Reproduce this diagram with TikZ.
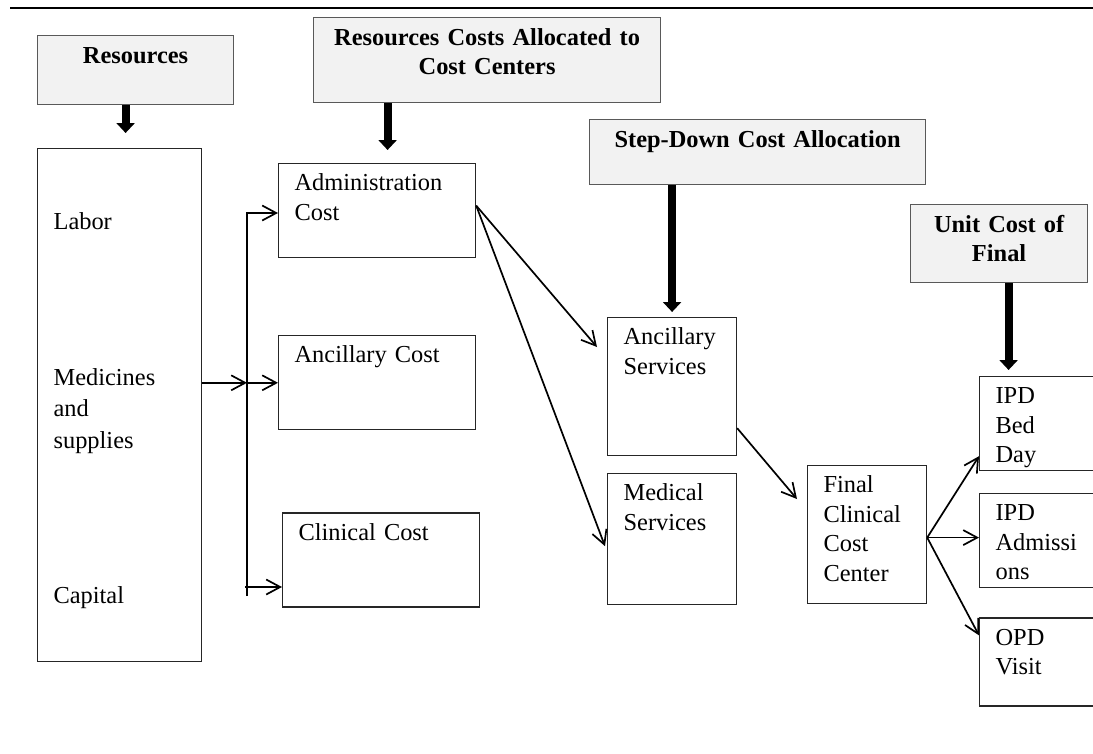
\documentclass[tikz,border=0pt]{standalone}
\usepackage{fontspec}
\setmainfont{Liberation Serif}
\usetikzlibrary{arrows.meta, positioning, calc}
\definecolor{hdrgrey}{HTML}{F2F2F2}
\definecolor{hdredge}{HTML}{595959}
\tikzset{
  >={Straight Barb[length=14pt,width=15pt]},
  hdr/.style={rectangle, draw=hdredge, fill=hdrgrey, line width=1.2pt, anchor=north west,
              align=center, inner sep=0pt, text height=28pt,
              font=\fontsize{24.4}{29}\selectfont\bfseries},
  box/.style={rectangle, draw=black!85, line width=1.2pt, anchor=north west,
              align=left, inner xsep=16pt, inner ysep=0pt, text height=27pt,
              font=\fontsize{24.4}{29.5}\selectfont},
  flow/.style={->, line width=1.7pt},
  bigflow/.style={-{Triangle[length=10pt,width=18pt]}, line width=8pt},
}
\begin{document}
\begin{tikzpicture}[x=1pt, y=-1pt]
  \useasboundingbox (0,0) rectangle (1093,753);
  \clip (0,0) rectangle (1093,753);
  \draw[line width=1.3pt] (10,8) -- (1093,8);

  \node[hdr, text width=196pt, text depth=41pt] (hres) at (37,35) {Resources};
  \node[hdr, text width=347pt, text depth=57pt] (hrcc) at (313,17) {Resources Costs Allocated to\\Cost Centers};
  \node[hdr, text width=336pt, text depth=37pt] (hsda) at (589,119) {Step-Down Cost Allocation};
  \node[hdr, text width=177pt, text depth=50pt] (hucf) at (910,204) {Unit Cost of\\Final};

  \node[box, text width=132pt, text height=81pt, text depth=432pt] (res) at (37,148)
    {Labor\\[126.5pt]Medicines\\[1.5pt]and\\[2.5pt]supplies\\[125.5pt]Capital};
  \node[box, text width=165pt, text depth=67pt] (adm) at (278,163) {Administration\\Cost};
  \node[box, text width=165pt, text depth=67pt, below=77pt of adm] (ancc) {Ancillary Cost};
  \node[box, text width=165pt, text depth=67pt, below=82pt of ancc, xshift=4pt] (clin) {Clinical Cost};
  \node[box, text width=97pt, text depth=111pt] (ancs) at (607,317) {Ancillary\\Services};
  \node[box, text width=97pt, text depth=104pt, below=17pt of ancs] (meds) {Medical\\Services};
  \node[box, text width=87pt, text depth=111pt] (fin) at (807,465) {Final\\Clinical\\Cost\\Center};
  \node[box, text width=130pt, text depth=67pt] (ipdb) at (979,376) {IPD\\Bed\\Day};
  \node[box, text width=130pt, text depth=67pt, below=22pt of ipdb] (ipda) {IPD\\Admissi\\ons};
  \node[box, text width=130pt, text depth=61pt, below=29pt of ipda] (opd) {OPD\\Visit};

  \draw[bigflow, shorten >=15pt] ([xshift=-10pt]hres.south) -- ([xshift=-10pt]hres.south |- res.north);
  \draw[bigflow, shorten >=13pt] ([xshift=-99.5pt]hrcc.south) -- ([xshift=-99.5pt]hrcc.south |- adm.north);
  \draw[bigflow, shorten >=5pt] (hsda.south -| ancs.north) -- (ancs.north);
  \draw[bigflow, shorten >=6pt] ([xshift=9.5pt]hucf.south) -- ([xshift=9.5pt]hucf.south |- ipdb.north);

  \coordinate (bustop) at (247,213);
  \coordinate (busbot) at (247,596);
  \coordinate (busclin) at (245,587);
  \draw[flow] (res.east |- ancc.west) -- (bustop |- ancc.west);
  \draw[flow] (bustop |- ancc.west) -- (ancc.west);
  \draw[flow] (busbot) |- (adm.west |- bustop);
  \draw[flow] (busclin) -- (clin.west |- busclin);

  \draw[flow] ([yshift=5pt]adm.east) -- ([shift={(-10pt,-30pt)}]ancs.north west);
  \draw[flow] ([yshift=5pt]adm.east) -- ([shift={(-2pt,-73pt)}]meds.north west);
  \draw[flow] ([yshift=28pt]ancs.south east) -- ([shift={(-10pt,-34pt)}]fin.north west);

  \coordinate (fanout) at ([yshift=-3pt]fin.east);
  \draw[flow] (fanout) -- ([yshift=15pt]ipdb.south west);
  \draw[flow] (fanout) -- (fanout -| ipda.west);
  \draw[flow] (fanout) -- ([yshift=-18pt]opd.north west);
\end{tikzpicture}
\end{document}
